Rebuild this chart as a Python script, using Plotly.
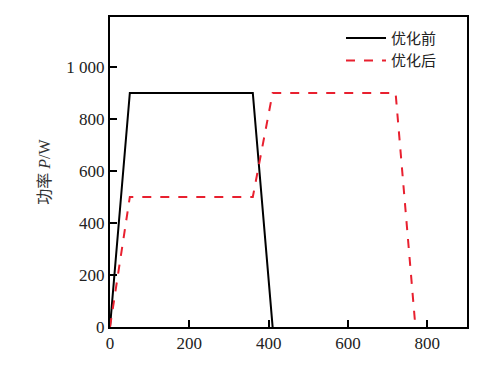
import plotly.graph_objects as go

# Data
before_t = [0, 50, 360, 410]
before_p = [0, 900, 900, 0]
after_t = [0, 20, 50, 360, 410, 720, 770]
after_p = [0, 200, 500, 500, 900, 900, 0]
x_ticks = [0, 200, 400, 600, 800]
y_ticks = [0, 200, 400, 600, 800, 1000]
y_ticklabels = ["0", "200", "400", "600", "800", "1 000"]
series_names = ["优化前", "优化后"]

serif = "Times New Roman, Liberation Serif, DejaVu Serif, serif"

fig = go.Figure()
fig.add_trace(go.Scatter(x=before_t, y=before_p, mode="lines", name=series_names[0],
                         line=dict(color="black", width=2)))
fig.add_trace(go.Scatter(x=after_t, y=after_p, mode="lines", name=series_names[1],
                         line=dict(color="#e8202f", width=2, dash="dash")))

fig.update_xaxes(range=[0, 900], tickvals=x_ticks)
fig.update_yaxes(range=[0, 1192], tickvals=y_ticks, ticktext=y_ticklabels,
                 title=dict(text="功率 <i>P</i>/W",
                            font=dict(family=serif + ", Noto Sans CJK SC", size=16, color="#333"),
                            standoff=12))
for upd in (fig.update_xaxes, fig.update_yaxes):
    upd(showline=True, linecolor="black", linewidth=2, mirror=True,
        ticks="inside", ticklen=7, tickwidth=2, tickcolor="black",
        showgrid=False, zeroline=False, automargin=False,
        tickfont=dict(family=serif, size=17, color="#222"))

fig.update_layout(
    width=477, height=359,
    margin=dict(l=102, r=18, t=9, b=40),
    plot_bgcolor="white", paper_bgcolor="white",
    font=dict(family=serif),
    showlegend=True,
    legend=dict(x=0.93, xanchor="right", y=0.985, yanchor="top",
                bgcolor="rgba(0,0,0,0)", itemwidth=40, tracegroupgap=0,
                font=dict(family="Noto Sans CJK SC", size=15, color="#222")),
)

fig.write_html("out.html")
